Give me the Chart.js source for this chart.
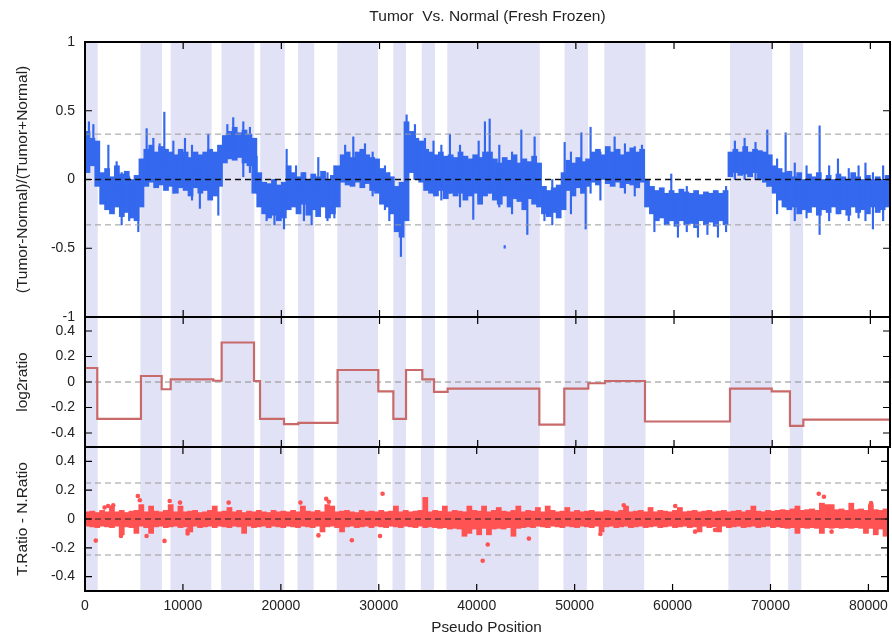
<!DOCTYPE html>
<html><head><meta charset="utf-8">
<script src="https://cdn.jsdelivr.net/npm/chart.js@4.4.0/dist/chart.umd.min.js"></script>
<style>
html,body{margin:0;padding:0;background:#fff;}
#wrap{position:relative;width:892px;height:640px;overflow:hidden;background:#fff;}
.c{position:absolute;left:0;width:892px;}
</style></head><body>
<div id="wrap">
<div class="c" style="top:0;height:330px"><canvas id="cA"></canvas></div>
<div class="c" style="top:305px;height:155px"><canvas id="cB"></canvas></div>
<div class="c" style="top:435px;height:205px"><canvas id="cC"></canvas></div>
</div>
<script>
// ---------------- DATA ----------------
const X_MAX = 82000;
const xTicks = [0, 10000, 20000, 30000, 40000, 50000, 60000, 70000, 80000];
const topTicks = [-1, -0.5, 0, 0.5, 1];
const midTicks = [-0.4, -0.2, 0, 0.2, 0.4];
const botTicks = [-0.4, -0.2, 0, 0.2, 0.4];

// alternating shaded regions (pseudo position)
const bandStart = [0, 5650, 8730, 13900, 17850, 21700, 25700, 31400, 34300, 36900, 48850, 52900, 65700, 71800];
const bandEnd   = [1300, 7850, 12900, 17250, 20350, 23350, 29850, 32700, 35650, 46330, 51250, 57100, 70000, 73150];

// top panel: (T-N)/(T+N), dense extent per 500-position bin
const BIN = 500;
const topHi = [0.35,0.30,0.28,
 0.05,0.08,0.02,0.10,0.04,0.06,0.00,0.03,
 0.15,0.22,0.25,0.20,0.24,0.22,0.20,0.18,0.22,0.20,0.16,0.20,0.18,0.20,0.22,0.20,0.25,
 0.32,0.35,0.38,0.34,0.36,0.33,0.30,
 0.05,-0.02,-0.03,0.00,-0.04,-0.02,
 0.10,0.05,0.02,0.05,0.00,0.04,0.02,0.06,0.00,0.03,0.10,
 0.18,0.20,0.16,0.20,0.22,0.18,0.16,0.15,0.08,0.05,0.02,
 -0.05,-0.02,0.42,
 0.35,0.30,0.28,0.22,0.20,0.18,0.20,0.17,0.18,0.16,0.20,0.17,0.15,0.18,0.16,0.20,
 0.20,0.15,0.12,0.16,0.14,0.18,0.12,0.15,0.13,0.17,0.12,
 -0.05,-0.08,-0.06,-0.04,0.05,
 0.14,0.12,0.16,0.13,0.15,
 0.20,0.22,0.18,0.24,0.20,0.22,0.18,0.20,0.23,0.20,0.22,
 0.00,-0.05,-0.08,-0.06,-0.10,-0.08,-0.10,-0.07,-0.09,-0.10,-0.08,-0.11,-0.09,-0.10,-0.08,-0.10,-0.08,
 0.20,0.22,0.20,0.24,0.20,0.22,0.21,0.20,0.18,
 0.10,0.08,0.05,0.06,0.02,0.05,0.00,0.04,0.02,0.05,0.00,0.03,0.00,0.04,0.02,0.00,0.05,0.02,0.00,0.03,0.00,0.02,0.00,0.03];
const topLo = [0.05,0.10,-0.05,
 -0.18,-0.22,-0.25,-0.20,-0.27,-0.24,-0.28,-0.30,
 -0.20,-0.05,-0.02,-0.06,-0.04,-0.08,-0.05,-0.10,-0.06,-0.08,-0.12,-0.06,-0.10,-0.08,-0.15,-0.12,-0.05,
 0.12,0.15,0.14,0.16,0.12,0.10,-0.10,
 -0.20,-0.25,-0.28,-0.26,-0.30,-0.28,
 -0.22,-0.20,-0.25,-0.18,-0.26,-0.22,-0.27,-0.20,-0.28,-0.25,-0.20,
 -0.02,-0.04,-0.05,-0.02,-0.06,-0.03,-0.08,-0.10,-0.18,-0.20,-0.25,
 -0.38,-0.42,-0.30,
 0.05,0.00,-0.02,-0.08,-0.10,-0.12,-0.08,-0.14,-0.10,-0.12,-0.10,-0.15,-0.12,-0.10,-0.18,-0.12,
 -0.10,-0.15,-0.18,-0.12,-0.20,-0.14,-0.16,-0.22,-0.14,-0.18,-0.20,
 -0.25,-0.27,-0.24,-0.28,-0.22,
 -0.08,-0.12,-0.06,-0.10,-0.05,
 -0.02,-0.04,0.00,-0.03,-0.05,-0.02,-0.06,-0.03,-0.04,-0.06,-0.02,
 -0.20,-0.25,-0.30,-0.28,-0.33,-0.30,-0.34,-0.30,-0.33,-0.32,-0.35,-0.30,-0.33,-0.31,-0.34,-0.30,-0.33,
 0.02,0.05,0.03,0.04,0.02,0.05,0.00,-0.02,-0.05,
 -0.10,-0.15,-0.20,-0.22,-0.20,-0.25,-0.22,-0.24,-0.20,-0.26,-0.22,-0.24,-0.20,-0.25,-0.22,-0.26,-0.20,-0.24,-0.22,-0.25,-0.20,-0.24,-0.22,-0.20];

// individual spikes of the top series
const spikeX  = [400,850,2380,3225,3735,4500,5430,6280,6960,7600,8080,9000,10185,10900,11700,12560,13580,14500,15100,16125,16800,17480,18500,19300,20270,20540,21500,22300,23085,23765,24700,25400,26500,27330,28520,29300,30555,31000,32180,32760,33610,34630,35500,36300,37175,38200,39550,40100,40740,41220,42200,42750,43500,44445,45056,45800,46800,47600,48860,49500,50560,51000,51500,52500,53950,55000,56000,56735,58000,59720,60400,61300,62440,63400,64475,65300,66200,67190,68300,69500,70500,71370,72300,73500,74830,75800,76700,77800,78800,79500,80260,81300];
const spikeLo = [0.08,0.10,-0.10,-0.10,-0.33,-0.30,-0.38,0.00,0.00,0.00,0.05,-0.10,0.00,-0.15,-0.21,0.00,-0.26,0.15,0.20,0.02,0.05,-0.10,-0.30,-0.33,-0.36,-0.10,-0.10,-0.30,-0.33,-0.10,-0.30,-0.28,0.00,0.00,0.00,-0.12,-0.22,-0.30,-0.56,0.10,0.00,-0.05,-0.10,-0.15,-0.10,-0.20,-0.29,-0.15,-0.10,-0.10,-0.20,-0.50,-0.25,-0.10,-0.40,-0.10,-0.30,-0.33,-0.20,-0.25,-0.10,-0.36,-0.10,-0.15,0.00,-0.10,-0.12,0.00,-0.38,-0.30,-0.42,-0.38,-0.42,-0.40,-0.42,-0.38,0.00,0.00,0.00,-0.05,-0.25,-0.20,-0.30,-0.28,-0.40,-0.30,-0.25,-0.30,-0.28,-0.30,-0.36,-0.30];
const spikeHi = [0.42,0.40,0.25,0.13,0.05,0.02,0.00,0.37,0.30,0.26,0.49,0.28,0.30,0.25,0.10,0.33,0.00,0.40,0.45,0.42,0.38,0.17,-0.05,0.00,-0.10,0.22,0.10,0.05,0.00,0.16,0.05,0.10,0.25,0.31,0.26,0.20,0.10,0.05,-0.20,0.47,0.40,0.30,0.28,0.25,0.33,0.25,0.10,0.28,0.42,0.44,0.25,-0.48,0.20,0.36,0.10,0.31,-0.05,0.00,0.27,0.20,0.34,0.05,0.38,0.20,0.31,0.26,0.24,0.25,-0.10,0.04,-0.15,-0.05,-0.15,-0.10,-0.15,-0.05,0.28,0.30,0.27,0.36,0.15,0.34,0.12,0.10,0.39,0.10,0.15,0.08,0.10,0.12,0.05,0.10];
const topRefLines = [0.33, -0.33];

// middle panel: segmented log2ratio
const segStart = [0,1250,5700,7810,8730,13070,13920,17215,17830,20270,21730,25730,29880,31410,32700,34360,35550,36940,46280,48820,51270,52970,57040,65700,69950,71810,73170];
const segEnd   = [1250,5700,7810,8730,13070,13920,17215,17830,20270,21730,25730,29880,31410,32700,34360,35550,36940,46280,48820,51270,52970,57040,65700,69950,71810,73170,82000];
const segVal   = [0.11,-0.29,0.047,-0.057,0.02,0.01,0.31,0.008,-0.29,-0.33,-0.32,0.094,-0.073,-0.29,0.094,0.02,-0.078,-0.052,-0.334,-0.052,-0.01,0.008,-0.31,-0.052,-0.073,-0.345,-0.295];

// bottom panel: T.Ratio - N.Ratio, dense extent per 500-position bin
const diffHi = [.05,.055,.045,.06,.05,.09,.05,.06,.045,.055,
 .06,.10,.05,.09,.055,.05,.06,.10,.05,.09,
 .05,.055,.06,.045,.05,.06,.09,.05,.055,.08,
 .05,.06,.045,.055,.05,.06,.05,.045,.06,.05,
 .055,.05,.06,.05,.09,.055,.05,.06,.05,.10,
 .09,.05,.055,.06,.05,.045,.06,.05,.055,.05,
 .06,.05,.055,.09,.05,.06,.05,.055,.06,.15,
 .05,.06,.055,.09,.05,.06,.055,.05,.09,.06,
 .055,.09,.05,.06,.08,.055,.05,.06,.09,.05,
 .06,.055,.08,.05,.09,.06,.05,.055,.08,.05,
 .06,.05,.055,.06,.05,.05,.06,.055,.05,.06,
 .09,.05,.055,.06,.05,.08,.05,.06,.055,.05,
 .06,.08,.05,.055,.06,.05,.055,.06,.05,.055,
 .06,.05,.055,.06,.05,.06,.09,.055,.05,.06,
 .055,.06,.065,.06,.07,.09,.06,.065,.07,.06,
 .11,.10,.10,.065,.07,.06,.11,.065,.07,.06,
 .10,.065,.06,.07];
const diffLo = [-.05,-.055,-.06,-.05,-.055,-.06,-.05,-.11,-.055,-.06,
 -.10,-.05,-.06,-.10,-.055,-.05,-.06,-.055,-.05,-.06,
 -.055,-.09,-.05,-.06,-.055,-.05,-.06,-.05,-.055,-.06,
 -.05,-.055,-.10,-.05,-.06,-.055,-.05,-.06,-.05,-.055,
 -.06,-.05,-.055,-.06,-.05,-.055,-.06,-.05,-.09,-.055,
 -.05,-.06,-.09,-.055,-.05,-.06,-.055,-.05,-.06,-.05,
 -.055,-.06,-.05,-.055,-.06,-.05,-.055,-.06,-.05,-.06,
 -.055,-.06,-.065,-.06,-.07,-.065,-.07,-.12,-.10,-.07,
 -.11,-.065,-.11,-.07,-.065,-.07,-.06,-.12,-.065,-.06,
 -.055,-.06,-.05,-.055,-.06,-.05,-.055,-.06,-.05,-.055,
 -.06,-.05,-.055,-.06,-.05,-.09,-.055,-.05,-.06,-.055,
 -.05,-.06,-.055,-.05,-.06,-.055,-.05,-.06,-.055,-.05,
 -.06,-.055,-.05,-.06,-.055,-.09,-.05,-.06,-.055,-.09,
 -.05,-.06,-.055,-.05,-.06,-.055,-.05,-.06,-.055,-.05,
 -.06,-.055,-.06,-.065,-.06,-.10,-.06,-.065,-.06,-.065,
 -.10,-.06,-.065,-.06,-.065,-.06,-.065,-.06,-.065,-.10,
 -.065,-.11,-.07,-.12];
const outX = [1100,2000,2360,2880,3670,5400,5600,6290,8120,8650,9700,10480,10480,14670,22000,23840,24630,24900,27250,30130,30390,40610,41130,45330,52630,55020,60270,62300,64340,74930,75460,75200,76240,80270];
const outY = [-0.15,0.08,0.09,0.095,-0.118,0.16,0.13,-0.118,-0.152,0.125,0.114,-0.10,-0.08,0.114,0.114,-0.114,0.14,0.12,-0.148,-0.118,0.175,-0.29,-0.177,-0.136,-0.104,0.095,0.09,-0.088,-0.076,0.175,0.155,-0.076,-0.088,0.11];
const botRefLines = [0.25, -0.25];

// ---------------- STYLE / HELPERS ----------------
const FONT = "'Liberation Sans', Arial, sans-serif";
const TXT = '#222';
const BAND = '#e2e2f6';
const BLUE = '#3468ee';
const RED = '#ff5252';
const STEP = '#c96a6a';
const BIN_PX = 5.1;

const panelPlugin = {
  id: 'panel',
  beforeDatasetsDraw(chart) {
    const {ctx, chartArea: a} = chart; const x = chart.scales.x;
    ctx.save();
    ctx.fillStyle = BAND;
    for (let i = 0; i < bandStart.length; i++) {
      const x0 = x.getPixelForValue(bandStart[i]);
      const x1 = x.getPixelForValue(bandEnd[i]);
      ctx.fillRect(x0, a.top, x1 - x0, a.bottom - a.top);
    }
    ctx.restore();
  },
  afterDraw(chart) {
    const {ctx, chartArea: a} = chart; const x = chart.scales.x, y = chart.scales.y;
    ctx.save();
    ctx.strokeStyle = '#000';
    ctx.lineWidth = 1.2;
    ctx.beginPath();
    xTicks.forEach(v => { const p = x.getPixelForValue(v);
      ctx.moveTo(p, a.top); ctx.lineTo(p, a.top + 7);
      ctx.moveTo(p, a.bottom); ctx.lineTo(p, a.bottom - 7); });
    y.ticks.forEach(t => { const p = y.getPixelForValue(t.value);
      ctx.moveTo(a.left, p); ctx.lineTo(a.left + 7, p);
      ctx.moveTo(a.right, p); ctx.lineTo(a.right - 7, p); });
    ctx.stroke();
    ctx.lineWidth = 2;
    ctx.strokeRect(a.left, a.top, a.right - a.left, a.bottom - a.top);
    ctx.restore();
  }
};

function xScale(shown) {
  return {
    type: 'linear', min: 0, max: X_MAX, offset: false, display: shown,
    afterBuildTicks: s => { s.ticks = xTicks.map(v => ({value: v})); },
    afterFit: s => { if (shown) s.height = 49; s.paddingLeft = 0; s.paddingRight = 0; },
    ticks: {font: {family: FONT, size: 14}, color: TXT, padding: 7, maxRotation: 0, autoSkip: false, callback: v => String(v)},
    grid: {display: false, drawTicks: false, offset: false}, border: {display: false},
    title: {display: shown, text: 'Pseudo Position', font: {family: FONT, size: 15.3}, color: TXT, padding: {top: 0, bottom: 3}}
  };
}
function yScale(min, max, ticks, title) {
  return {
    type: 'linear', position: 'left', min, max,
    afterFit: s => { s.width = 85; s.paddingTop = 0; s.paddingBottom = 0; },
    afterBuildTicks: s => { s.ticks = ticks.map(v => ({value: v})); },
    ticks: {font: {family: FONT, size: 14}, color: TXT, padding: 10, callback: v => String(v)},
    grid: {display: false, drawTicks: false}, border: {display: false},
    title: {display: true, text: title, font: {family: FONT, size: 15.5}, color: TXT, padding: {top: 13, bottom: 0}}
  };
}
function hline(v, color, dash, width, order) {
  return {type: 'line', data: [{x: 0, y: v}, {x: X_MAX, y: v}], borderColor: color, borderDash: dash,
    borderWidth: width, pointRadius: 0, fill: false, order};
}
function binData(lo, hi) {
  return lo.map((l, i) => ({x: i * BIN + BIN / 2, y: [l, hi[i]]}));
}
const common = {
  responsive: true, maintainAspectRatio: false, animation: false, events: [],
  plugins: {legend: {display: false}, tooltip: {enabled: false}}
};

// ---------------- TOP PANEL ----------------
new Chart(document.getElementById('cA'), {
  type: 'bar',
  data: {datasets: [
    hline(0, '#111', [6, 4], 1.3, 0),
    hline(topRefLines[0], '#9a9a9a', [6, 4], 1, 1),
    hline(topRefLines[1], '#9a9a9a', [6, 4], 1, 1),
    {type: 'bar', data: spikeX.map((v, i) => ({x: v, y: [spikeLo[i], spikeHi[i]]})), backgroundColor: BLUE,
      borderWidth: 0, barThickness: 1.5, grouped: false, order: 4},
    {type: 'bar', data: binData(topLo, topHi), backgroundColor: BLUE, borderWidth: 0,
      barThickness: BIN_PX, grouped: false, order: 5}
  ]},
  options: Object.assign({}, common, {
    layout: {padding: {top: 0, right: 2, bottom: 13, left: 0}},
    plugins: Object.assign({}, common.plugins, {
      title: {display: true, text: 'Tumor  Vs. Normal (Fresh Frozen)', fullSize: false, color: TXT,
        font: {family: FONT, size: 15.5, weight: 'normal'}, padding: {top: 7, bottom: 16.4}}
    }),
    scales: {x: xScale(false), y: yScale(-1, 1, topTicks, '(Tumor-Normal)/(Tumor+Normal)')}
  }),
  plugins: [panelPlugin]
});

// ---------------- MIDDLE PANEL ----------------
const stepPts = [];
segStart.forEach((s, i) => { stepPts.push({x: s, y: segVal[i]}); stepPts.push({x: segEnd[i], y: segVal[i]}); });
new Chart(document.getElementById('cB'), {
  type: 'line',
  data: {datasets: [
    {data: stepPts, borderColor: STEP, borderWidth: 2.2, pointRadius: 0, fill: false, tension: 0, order: 0},
    hline(0, '#8a8a8a', [6, 4], 1, 1)
  ]},
  options: Object.assign({}, common, {
    layout: {padding: {top: 12, right: 2, bottom: 13, left: 0}},
    scales: {x: xScale(false), y: yScale(-0.51, 0.51, midTicks, 'log2ratio')}
  }),
  plugins: [panelPlugin]
});

// ---------------- BOTTOM PANEL ----------------
new Chart(document.getElementById('cC'), {
  type: 'bar',
  data: {datasets: [
    hline(0, '#222', [6, 4], 1, 0),
    hline(botRefLines[0], '#9a9a9a', [6, 4], 1, 1),
    hline(botRefLines[1], '#9a9a9a', [6, 4], 1, 1),
    {type: 'line', data: outX.map((v, i) => ({x: v, y: outY[i]})), showLine: false, pointRadius: 2.3,
      pointBackgroundColor: RED, pointBorderWidth: 0, order: 3},
    {type: 'bar', data: binData(diffLo, diffHi), backgroundColor: RED, borderWidth: 0,
      barThickness: BIN_PX, grouped: false, order: 4}
  ]},
  options: Object.assign({}, common, {
    layout: {padding: {top: 12, right: 2, bottom: 0, left: 0}},
    scales: {x: xScale(true), y: yScale(-0.5, 0.5, botTicks, 'T.Ratio - N.Ratio')}
  }),
  plugins: [panelPlugin]
});
</script>
</body></html>
